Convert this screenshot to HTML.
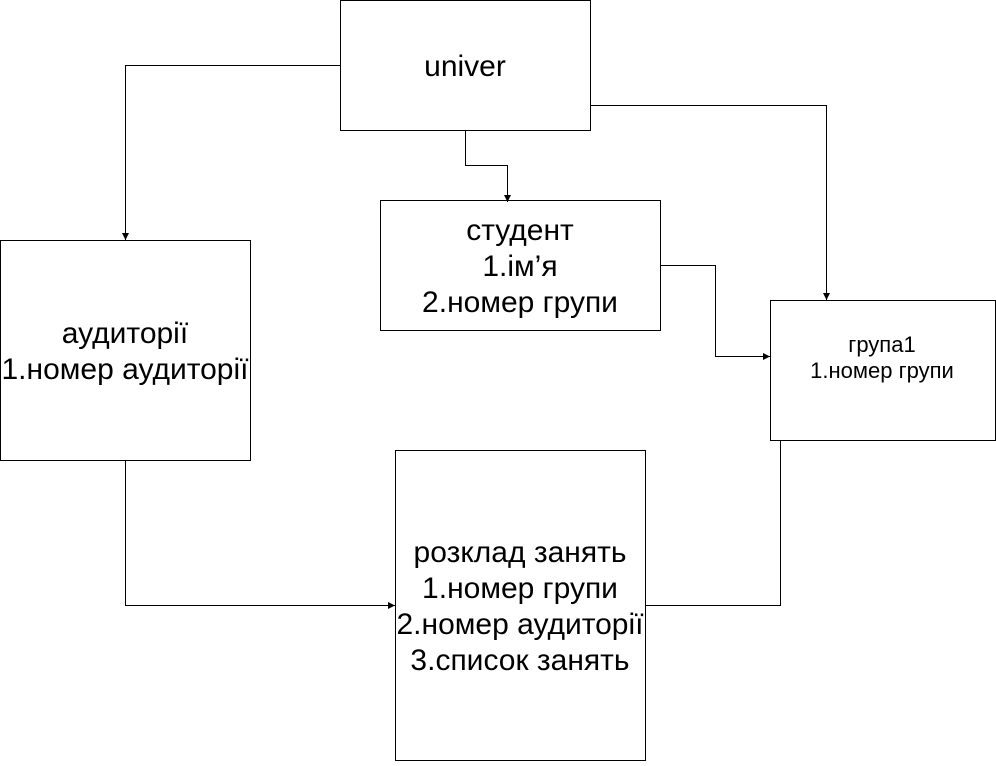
<!DOCTYPE html>
<html><head><meta charset="utf-8"><style>html,body{margin:0;padding:0;background:#fff}</style></head>
<body>
<svg width="996" height="761" xmlns="http://www.w3.org/2000/svg" font-family="Liberation Sans, sans-serif" fill="none" stroke="#000">
<defs><marker id="a" markerWidth="7" markerHeight="8" refX="7" refY="4" orient="auto" markerUnits="userSpaceOnUse"><path d="M0,0.5 L7,4 L0,7.5 Z" fill="#000" stroke="none"/></marker></defs>
<g stroke-width="1">
<rect x="340.5" y="0.5" width="250" height="130"/>
<rect x="380.5" y="200.5" width="280" height="130"/>
<rect x="0.5" y="240.5" width="250" height="220"/>
<rect x="770.5" y="300.5" width="225" height="140"/>
<rect x="395.5" y="450.5" width="250" height="310"/>
<polyline points="340.5,65.5 125.5,65.5 125.5,240" marker-end="url(#a)"/>
<polyline points="465.5,130.5 465.5,165.5 507.5,165.5 507.5,202" marker-end="url(#a)"/>
<polyline points="590.5,105.5 826.5,105.5 826.5,300" marker-end="url(#a)"/>
<polyline points="660.5,265.5 715.5,265.5 715.5,356.5 770,356.5" marker-end="url(#a)"/>
<polyline points="125.5,460.5 125.5,605.5 395,605.5" marker-end="url(#a)"/>
<polyline points="780.5,440.5 780.5,605.5 646,605.5"/>
</g>
<g fill="#000" stroke="none" font-size="30" text-anchor="middle">
<text x="465" y="76">univer</text>
<text x="520" y="240">студент</text>
<text x="520" y="276">1.ім’я</text>
<text x="520" y="312">2.номер групи</text>
<text x="125" y="343">аудиторії</text>
<text x="125" y="379">1.номер аудиторії</text>
<text x="520" y="562">розклад занять</text>
<text x="520" y="598">1.номер групи</text>
<text x="520" y="634">2.номер аудиторії</text>
<text x="520" y="670">3.список занять</text>
<text x="882" y="352" font-size="22">група1</text>
<text x="882" y="378" font-size="22">1.номер групи</text>
</g>
</svg>
</body></html>
